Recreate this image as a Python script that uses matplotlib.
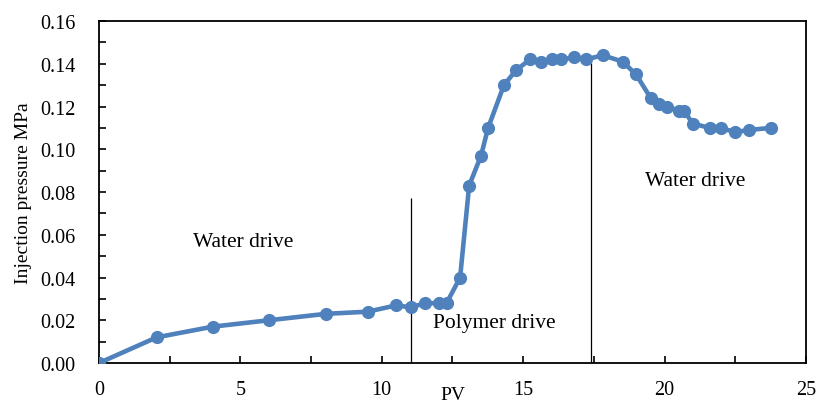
import matplotlib
matplotlib.use("Agg")
import matplotlib.pyplot as plt
from matplotlib.ticker import MultipleLocator, FormatStrFormatter

plt.rcParams['font.family'] = ['Liberation Serif', 'DejaVu Serif']

# Injected pore volumes and injection pressure (MPa)
pv = [0, 2.04, 4.02, 6.01, 8.02, 9.50, 10.52, 11.02, 11.53, 12.03, 12.29,
      12.77, 13.09, 13.51, 13.76, 14.32, 14.75, 15.24, 15.62, 16.01, 16.33,
      16.81, 17.22, 17.81, 18.52, 18.99, 19.51, 19.79, 20.09, 20.50, 20.70,
      20.99, 21.60, 21.98, 22.50, 22.98, 23.75]
pressure = [0.000, 0.012, 0.017, 0.020, 0.023, 0.024, 0.027, 0.026, 0.028,
            0.028, 0.028, 0.040, 0.083, 0.097, 0.110, 0.130, 0.137, 0.142,
            0.141, 0.142, 0.142, 0.143, 0.142, 0.144, 0.141, 0.135, 0.124,
            0.121, 0.120, 0.118, 0.118, 0.112, 0.110, 0.110, 0.108, 0.109,
            0.110]

# Stage boundaries: (PV, top of marker line)
stage_pv = [11.04, 17.41]
stage_top = [0.0772, 0.1402]

stage_labels = ["Water drive", "Polymer drive", "Water drive"]
stage_label_pv = [5.11, 13.98, 21.08]
stage_label_p = [0.0547, 0.0168, 0.0833]

fig = plt.figure(figsize=(8.16, 4.10), dpi=100)
ax = fig.add_axes([0.1213, 0.1122, 0.8664, 0.8341])

ax.plot(pv, pressure, color='#4F81BD', linewidth=3.3, marker='o',
        markersize=9.5, markeredgewidth=0, solid_joinstyle='round', zorder=3)

for x, top in zip(stage_pv, stage_top):
    ax.vlines(x, 0, top, colors='black', linewidth=0.9, zorder=2)

for txt, x, y in zip(stage_labels, stage_label_pv, stage_label_p):
    ax.text(x, y, txt, fontsize=15.5, ha='center', va='baseline')

ax.set_xlim(0, 25)
ax.set_ylim(0, 0.16)
ax.xaxis.set_major_locator(MultipleLocator(5))
ax.xaxis.set_minor_locator(MultipleLocator(2.5))
ax.yaxis.set_major_locator(MultipleLocator(0.02))
ax.yaxis.set_minor_locator(MultipleLocator(0.01))
ax.yaxis.set_major_formatter(FormatStrFormatter('%.2f'))

ax.tick_params(which='both', direction='in', labelsize=14.5, width=1.2,
               colors='black', length=5)
ax.tick_params(axis='x', which='major', pad=12)
ax.tick_params(axis='y', which='major', pad=17)

for s in ax.spines.values():
    s.set_linewidth(1.3)
    s.set_color('black')

ax.set_xlabel('PV', fontsize=14)
ax.set_ylabel('Injection pressure MPa', fontsize=14)
ax.xaxis.set_label_coords(0.5, -0.066)
ax.yaxis.set_label_coords(-0.0945, 0.5)

fig.savefig('out.png', dpi=100)
